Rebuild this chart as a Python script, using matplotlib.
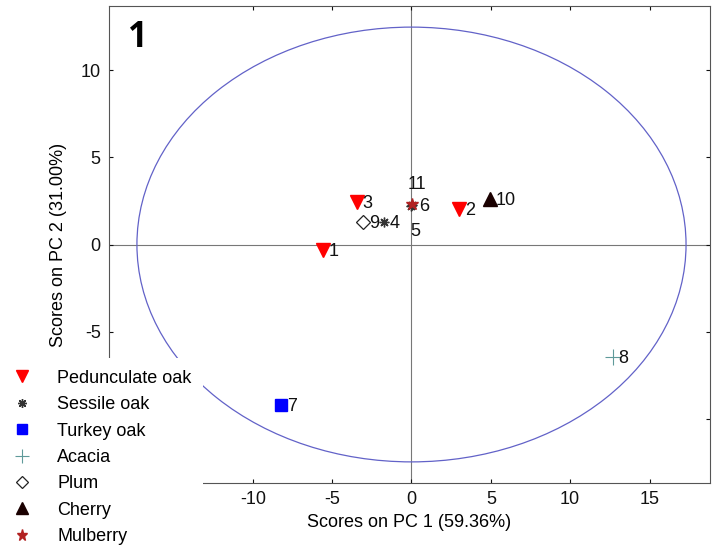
import numpy as np
import matplotlib
matplotlib.use("Agg")
import matplotlib.pyplot as plt
from matplotlib.patches import Ellipse
from matplotlib.lines import Line2D

plt.rcParams['font.family'] = ['Liberation Sans', 'DejaVu Sans']
plt.rcParams['axes.unicode_minus'] = False

# ---- data ----
groups = ["Pedunculate oak", "Sessile oak", "Turkey oak", "Acacia", "Plum", "Cherry", "Mulberry"]
sample_ids = ["1", "2", "3", "4", "5", "6", "7", "8", "9", "10", "11"]
sample_group = ["Pedunculate oak", "Pedunculate oak", "Pedunculate oak",
                "Sessile oak", "Sessile oak", "Sessile oak",
                "Turkey oak", "Acacia", "Plum", "Cherry", "Mulberry"]
pc1 = [-5.6, 3.0, -3.45, -1.75, 0.0, 0.05, -8.2, 12.7, -3.05, 4.95, 0.05]
pc2 = [-0.32, 2.03, 2.44, 1.29, 2.2, 2.26, -9.2, -6.45, 1.29, 2.61, 2.3]
ellipse_semi = (17.3, 12.46)
xlabel = "Scores on PC 1 (59.36%)"
ylabel = "Scores on PC 2 (31.00%)"
xticks = [-10, -5, 0, 5, 10, 15]
yticks = [-10, -5, 0, 5, 10]
yticklabels = ["", "-5", "0", "5", "10"]   # -10 is hidden behind the legend

styles = {
    "Pedunculate oak": dict(marker="v", color="#ff0000", mec="#ff0000", ms=10),
    "Sessile oak": dict(marker=(8, 2, 0), color="#333333", mec="#333333", ms=7, mew=1.0),
    "Turkey oak": dict(marker="s", color="#0000ff", mec="#0000ff", ms=8),
    "Acacia": dict(marker="+", color="#5f9a9a", mec="#5f9a9a", ms=11, mew=0.8),
    "Plum": dict(marker="D", color="white", mec="#222222", ms=7, mew=0.9),
    "Cherry": dict(marker="^", color="#1a0000", mec="#1a0000", ms=10),
    "Mulberry": dict(marker="*", color="#b22222", mec="#b22222", ms=9),
}

FS = 13
# label offsets in points (dx, dy, ha, va)
label_off = {"5": (-1, -18, "left", "center"), "11": (-3, 14, "left", "center"),
             "6": (5, -1, "left", "center")}

fig = plt.figure(figsize=(7.16, 5.5), dpi=100)
ax = fig.add_axes([109/716, 1-483/550, 601/716, 477/550])
ax.set_xlim(-19.06, 18.81)
ax.set_ylim(-13.67, 13.67)

ax.axhline(0, color="#777777", lw=0.8, zorder=1)
ax.axvline(0, color="#777777", lw=0.8, zorder=1)
ax.add_patch(Ellipse((0, 0), 2*ellipse_semi[0], 2*ellipse_semi[1], fill=False,
                     edgecolor="#6262c8", lw=0.9, zorder=2))

for sid, g, x, y in zip(sample_ids, sample_group, pc1, pc2):
    st = styles[g]
    ax.plot([x], [y], linestyle="none", marker=st["marker"], color=st["color"],
            markerfacecolor=st["color"], markeredgecolor=st["mec"],
            markersize=st["ms"], markeredgewidth=st.get("mew", 1.0), zorder=3)
    dx, dy, ha, va = label_off.get(sid, (4, -1, "left", "center"))
    ax.annotate(sid, (x, y), xytext=(dx, dy), textcoords="offset points",
                ha=ha, va=va, fontsize=FS, color="#111111", zorder=4)

ax.set_xticks(xticks)
ax.set_yticks(yticks)
ax.set_yticklabels(yticklabels)
ax.tick_params(direction="in", length=3, width=0.8, top=True, right=True,
               labelsize=FS, colors="#111111", pad=6)
for s in ax.spines.values():
    s.set_color("#555555")
    s.set_linewidth(0.8)
ax.set_xlabel(xlabel, fontsize=FS, labelpad=4)
ax.set_ylabel(ylabel, fontsize=FS)
ax.yaxis.set_label_coords(-0.07, 0.5)

fig.text(138/716, 1-38/550, "1", fontsize=25, fontweight="bold",
         ha="center", va="center", family=["Open Sans", "DejaVu Sans"])

handles = []
for g in groups:
    st = styles[g]
    handles.append(Line2D([], [], linestyle="none", marker=st["marker"],
                          markerfacecolor=st["color"], markeredgecolor=st["mec"],
                          markersize=st["ms"] * 0.9, markeredgewidth=st.get("mew", 1.0)))
leg = fig.legend(handles, groups, loc="upper left",
                 bbox_to_anchor=(0.0, 1-358/550), frameon=True, fancybox=False,
                 facecolor="white", edgecolor="none", framealpha=1.0,
                 fontsize=FS, handlelength=1.15, handletextpad=1.36,
                 labelspacing=0.52, borderpad=0.65, borderaxespad=0.0)
leg.set_zorder(10)

fig.savefig("out.png", dpi=100)
